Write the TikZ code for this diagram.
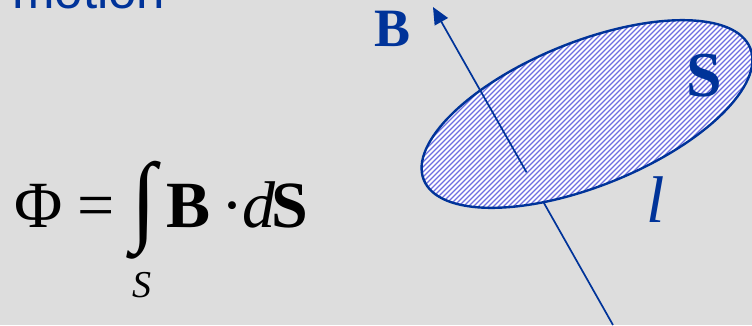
\documentclass[tikz,border=0pt]{standalone}
\usepackage{graphicx}
\usepackage{fontspec}
\setmainfont{Liberation Serif}
\newfontfamily\motionfont{Liberation Sans}
\usetikzlibrary{arrows.meta,calc}
\definecolor{bgc}{RGB}{221,221,221}
\definecolor{dblue}{RGB}{0,51,153}
\definecolor{hblue}{RGB}{110,110,226}
\begin{document}
\begin{tikzpicture}[x=1pt,y=-1pt,
  lbl/.style={inner sep=0pt, anchor=base west},
  axisline/.style={draw=dblue, line width=1.7pt},
  hatchline/.style={draw=hblue, line width=1.15pt},
  rim/.style={draw=dblue, line width=2.4pt}]
\fill[bgc] (0,0) rectangle (752,325);
\useasboundingbox (0,0) rectangle (752,325);
\clip (0,0) rectangle (752,325);
% title remnant
\node[lbl, text=dblue, font=\motionfont\fontsize{51}{51}\selectfont] (motion) at (12,8) {motion};
% formula
\node[lbl, font=\fontsize{66}{66}\selectfont] (phi) at (14,227) {Φ};
\node[lbl, font=\fontsize{66}{66}\selectfont] (eq) at (77,227) {=};
\node[inner sep=0pt] (int) at (144,210) {\resizebox*{25pt}{98pt}{∫}};
\node[lbl, font=\fontsize{38}{38}\selectfont\itshape] (sub) at (132,297) {S};
\node[lbl, font=\fontsize{66}{66}\selectfont\bfseries] (vB) at (166,227) {B};
\node[lbl, font=\fontsize{66}{66}\selectfont] (dot) at (221,227) {·};
\node[lbl, font=\fontsize{66}{66}\selectfont\itshape] (dd) at (242,227) {d};
\node[lbl, font=\fontsize{66}{66}\selectfont\bfseries] (vS) at (271,227) {S};
% geometry
\coordinate (c) at (587,114);
\coordinate (bot) at (613,325);
\coordinate (tip) at (433,7);
\coordinate (foot) at ($(bot)!0.48!(tip)$);
\draw[axisline] (bot) -- ($(bot)!0.6!(tip)$);
\begin{scope}
  \clip[rotate around={22:(c)}] (c) ellipse[x radius=176, y radius=72];
  \fill[white] (380,0) rectangle (752,260);
  \foreach \k in {0,...,110} \draw[hatchline] ({250+\k*5},260) -- ++(260,-260);
\end{scope}
\draw[rim, rotate around={22:(c)}] (c) ellipse[x radius=176, y radius=72];
\draw[axisline, -{Triangle[length=17pt,width=15pt]}] (foot) -- (tip);
% labels
\node[lbl, text=dblue, font=\fontsize{54}{54}\selectfont\bfseries] (lB) at (374,46) {B};
\node[lbl, text=dblue, font=\fontsize{64}{64}\selectfont\bfseries] (lS) at (686,96) {S};
\node[lbl, text=dblue, font=\fontsize{66}{66}\selectfont\itshape] (ll) at (646,222) {l};
\end{tikzpicture}
\end{document}
